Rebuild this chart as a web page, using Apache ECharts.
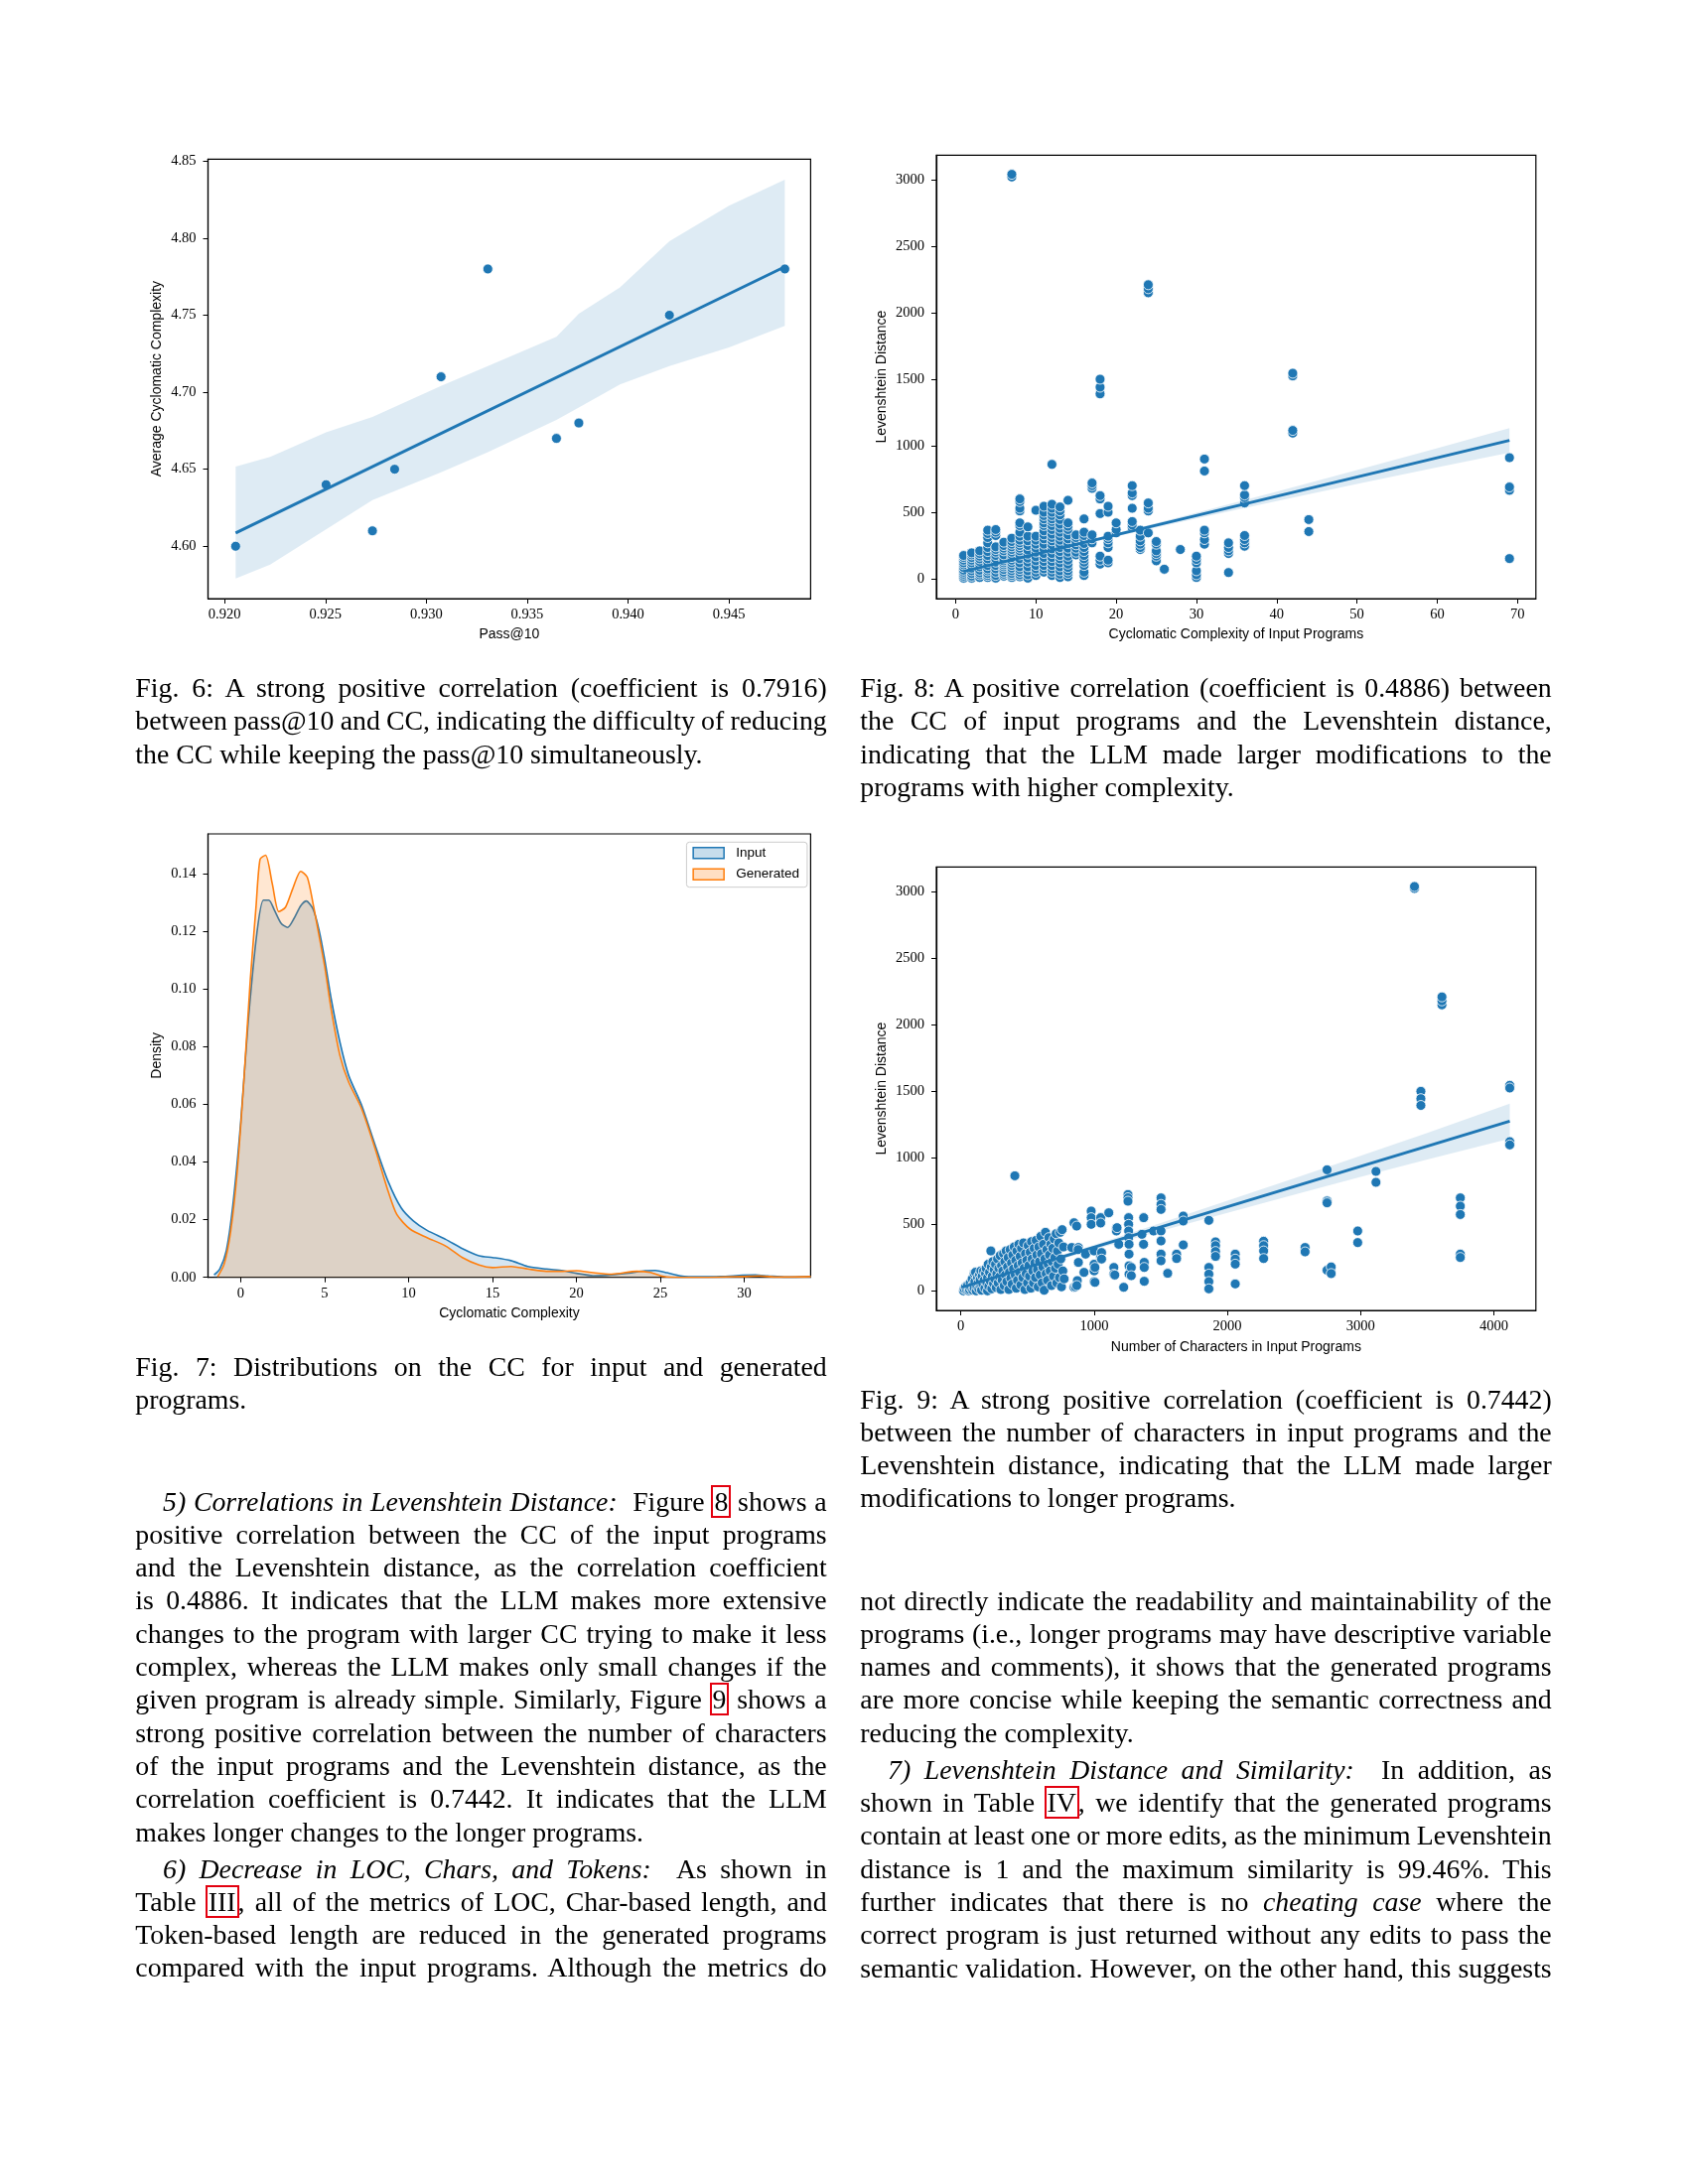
<!DOCTYPE html>
<html><head><meta charset="utf-8">
<script src="https://cdn.jsdelivr.net/npm/echarts@6/dist/echarts.min.js"></script>
<style>
html,body{margin:0;padding:0;background:#fff;}
#chart{position:absolute;left:0;top:0;width:1700px;height:2200px;}
.col{position:absolute;width:696.4px;font-family:'Liberation Serif','Times New Roman',serif;font-size:27.8px;line-height:33.33px;color:#000;}
.col .j{text-align:justify;text-align-last:justify;word-spacing:-3px;}
.col .l{text-align:left;}
.col .ind{padding-left:27.7px;}
.col .ps{margin-top:3.4px;}
.box{outline:2px solid #e3000f;outline-offset:-1px;padding:0 2px;}
</style></head><body>
<div id="chart"></div>

<div class="col" style="left:136.3px;top:676px;">
<div class="j">Fig. 6: A strong positive correlation (coefficient is 0.7916)</div>
<div class="j">between pass@10 and CC, indicating the difficulty of reducing</div>
<div class="l">the CC while keeping the pass@10 simultaneously.</div>
</div>

<div class="col" style="left:866.3px;top:676px;">
<div class="j">Fig. 8: A positive correlation (coefficient is 0.4886) between</div>
<div class="j">the CC of input programs and the Levenshtein distance,</div>
<div class="j">indicating that the LLM made larger modifications to the</div>
<div class="l">programs with higher complexity.</div>
</div>

<div class="col" style="left:136.3px;top:1360px;">
<div class="j">Fig. 7: Distributions on the CC for input and generated</div>
<div class="l">programs.</div>
</div>

<div class="col" style="left:866.3px;top:1392.5px;">
<div class="j">Fig. 9: A strong positive correlation (coefficient is 0.7442)</div>
<div class="j">between the number of characters in input programs and the</div>
<div class="j">Levenshtein distance, indicating that the LLM made larger</div>
<div class="l">modifications to longer programs.</div>
</div>

<div class="col" style="left:136.3px;top:1495.5px;">
<div class="j ind"><i>5) Correlations in Levenshtein Distance:</i>&nbsp; Figure <span class="box">8</span> shows a</div>
<div class="j">positive correlation between the CC of the input programs</div>
<div class="j">and the Levenshtein distance, as the correlation coefficient</div>
<div class="j">is 0.4886. It indicates that the LLM makes more extensive</div>
<div class="j">changes to the program with larger CC trying to make it less</div>
<div class="j">complex, whereas the LLM makes only small changes if the</div>
<div class="j">given program is already simple. Similarly, Figure <span class="box">9</span> shows a</div>
<div class="j">strong positive correlation between the number of characters</div>
<div class="j">of the input programs and the Levenshtein distance, as the</div>
<div class="j">correlation coefficient is 0.7442. It indicates that the LLM</div>
<div class="l">makes longer changes to the longer programs.</div>
<div class="j ind ps"><i>6) Decrease in LOC, Chars, and Tokens:</i>&nbsp; As shown in</div>
<div class="j">Table <span class="box">III</span>, all of the metrics of LOC, Char-based length, and</div>
<div class="j">Token-based length are reduced in the generated programs</div>
<div class="j">compared with the input programs. Although the metrics do</div>
</div>

<div class="col" style="left:866.3px;top:1595.5px;">
<div class="j">not directly indicate the readability and maintainability of the</div>
<div class="j">programs (i.e., longer programs may have descriptive variable</div>
<div class="j">names and comments), it shows that the generated programs</div>
<div class="j">are more concise while keeping the semantic correctness and</div>
<div class="l">reducing the complexity.</div>
<div class="j ind ps"><i>7) Levenshtein Distance and Similarity:</i>&nbsp; In addition, as</div>
<div class="j">shown in Table <span class="box">IV</span>, we identify that the generated programs</div>
<div class="j">contain at least one or more edits, as the minimum Levenshtein</div>
<div class="j">distance is 1 and the maximum similarity is 99.46%. This</div>
<div class="j">further indicates that there is no <i>cheating case</i> where the</div>
<div class="j">correct program is just returned without any edits to pass the</div>
<div class="j">semantic validation. However, on the other hand, this suggests</div>
</div>

<script>
// ---------- Fig. 6 : pass@10 vs average CC ----------
const fig6Pass = [0.92055, 0.92503, 0.92733, 0.92843, 0.93073, 0.93305, 0.93645, 0.93756, 0.94205, 0.94777];
const fig6CC   = [4.60, 4.64, 4.61, 4.65, 4.71, 4.78, 4.67, 4.68, 4.75, 4.78];
const fig6LineX = [0.92055, 0.94777];
const fig6LineY = [4.6086, 4.7814];
const fig6BandX     = [0.92055, 0.92226, 0.92503, 0.92733, 0.93073, 0.93305, 0.93645, 0.93756, 0.93960, 0.94205, 0.94500, 0.94777];
const fig6BandUpper = [4.6517, 4.658, 4.674, 4.684, 4.704, 4.717, 4.736, 4.751, 4.768, 4.798, 4.821, 4.838];
const fig6BandLower = [4.579, 4.588, 4.611, 4.630, 4.648, 4.661, 4.682, 4.690, 4.705, 4.717, 4.729, 4.743];
const fig6XTicks = [0.920, 0.925, 0.930, 0.935, 0.940, 0.945];
const fig6YTicks = [4.60, 4.65, 4.70, 4.75, 4.80, 4.85];

// ---------- Fig. 8 : CC of input vs Levenshtein distance ----------
const fig8Groups = [
  [1, [5, 20, 35, 50, 65, 85, 105, 120, 140, 160, 175]],
  [2, [5, 20, 40, 60, 80, 100, 120, 140, 160, 180, 195]],
  [3, [10, 30, 45, 65, 90, 110, 130, 150, 170, 190, 210]],
  [4, [10, 25, 40, 60, 75, 100, 125, 150, 175, 205, 235, 270, 310, 340, 365]],
  [5, [5, 25, 50, 75, 100, 125, 150, 175, 200, 220, 240, 325, 350, 370]],
  [6, [20, 35, 50, 70, 90, 105, 120, 135, 150, 180, 210, 230, 250, 275]],
  [7, [10, 25, 40, 60, 80, 100, 120, 140, 160, 180, 200, 220, 240, 260, 280, 305, 3020, 3040]],
  [8, [15, 30, 50, 70, 90, 120, 150, 180, 210, 230, 250, 270, 290, 320, 350, 400, 420, 510, 530, 580, 600]],
  [9, [5, 30, 60, 90, 125, 155, 185, 215, 250, 285, 320, 390]],
  [10, [25, 50, 75, 100, 135, 165, 200, 230, 260, 290, 320, 515]],
  [11, [50, 75, 100, 130, 160, 190, 225, 260, 300, 330, 360, 400, 420, 450, 475, 500, 545]],
  [12, [25, 50, 75, 100, 130, 160, 190, 225, 255, 285, 310, 335, 370, 400, 430, 450, 475, 500, 530, 560, 860]],
  [13, [10, 35, 60, 90, 120, 150, 175, 205, 235, 260, 290, 320, 350, 380, 410, 445, 480, 510, 540]],
  [14, [15, 40, 60, 85, 110, 140, 170, 200, 230, 265, 300, 330, 370, 395, 420, 590]],
  [15, [180, 200, 230, 255, 280, 310, 330]],
  [16, [25, 50, 100, 125, 150, 175, 205, 235, 265, 300, 325, 350, 450]],
  [17, [270, 300, 330, 680, 700, 720]],
  [18, [110, 140, 170, 490, 600, 625, 1390, 1440, 1500]],
  [19, [120, 140, 235, 270, 300, 320, 500, 545]],
  [20, [345, 370, 420]],
  [22, [385, 405, 430, 530, 625, 645, 700]],
  [23, [220, 235, 260, 285, 320, 365]],
  [24, [345, 510, 530, 570, 2150, 2180, 2210]],
  [25, [135, 170, 190, 210, 260, 280]],
  [26, [72]],
  [28, [220]],
  [30, [10, 30, 60, 120, 145, 170]],
  [31, [260, 295, 345, 365, 810, 900]],
  [34, [47, 190, 210, 235, 270]],
  [36, [245, 270, 295, 325, 570, 610, 630, 700]],
  [42, [1095, 1115, 1525, 1545]],
  [44, [355, 445]],
  [69, [152, 665, 690, 910]]
];
const fig8LineX = [1, 69];
const fig8LineY = [55, 1040];
const fig8BandX     = [1, 10, 20, 30, 40, 50, 60, 69];
const fig8BandUpper = [67, 193, 342, 497, 655, 817, 982, 1132];
const fig8BandLower = [43, 177, 318, 453, 585, 713, 838, 948];
const fig8XTicks = [0, 10, 20, 30, 40, 50, 60, 70];
const levTicks = [0, 500, 1000, 1500, 2000, 2500, 3000];

// ---------- Fig. 7 : KDE of CC ----------
const fig7InputX = [-1.59,-1.25,-0.86,-0.47,0,0.44,0.96,1.35,1.67,2.0,2.4,2.79,3.18,3.57,3.9,4.3,4.66,5.0,5.39,5.91,6.43,7.2,8.0,8.78,9.56,10.3,11.1,12.2,13.2,14.2,15.0,16.1,17.1,18.2,19.2,20.0,21.0,22.1,23.1,24.1,24.7,25.4,26.2,27.3,28.6,29.9,30.65,31.4,32.5,33.96];
const fig7InputY = [0.0009,0.0029,0.0092,0.025,0.054,0.0885,0.1195,0.131,0.131,0.1276,0.123,0.1215,0.1247,0.129,0.1307,0.128,0.1207,0.1104,0.0966,0.0816,0.0701,0.0598,0.046,0.0333,0.0241,0.0195,0.0163,0.0132,0.0100,0.0075,0.0069,0.0058,0.0038,0.0029,0.0023,0.0014,0.0006,0.0009,0.0015,0.0023,0.0024,0.0016,0.0005,0.0002,0.0003,0.0007,0.0008,0.0005,0.0001,0.0003];
const fig7GenX = [-1.38,-0.99,-0.6,-0.21,0.18,0.57,0.91,1.15,1.48,1.875,2.27,2.66,3.1,3.57,3.96,4.3,4.6,5.0,5.39,5.91,6.43,7.2,8.0,8.78,9.3,10.1,11.1,12.2,13.2,14.2,15.0,16.1,17.1,18.2,19.2,20.0,21.0,22.1,23.6,24.4,25.2,26.2,27.8,29.9,30.9,32.0,33.96];
const fig7GenY = [0.0002,0.0046,0.016,0.0368,0.0678,0.1034,0.1287,0.1452,0.1466,0.1368,0.127,0.1285,0.135,0.141,0.139,0.13,0.1207,0.108,0.093,0.077,0.0678,0.0586,0.0448,0.0299,0.0218,0.0167,0.0138,0.0109,0.0069,0.0043,0.0034,0.0038,0.0029,0.0021,0.0021,0.0023,0.0016,0.0011,0.0021,0.0017,0.0003,0,0,0.0003,0.0005,0.0001,0.0003];
const fig7XTicks = [0, 5, 10, 15, 20, 25, 30];
const fig7YTicks = [0, 0.02, 0.04, 0.06, 0.08, 0.10, 0.12, 0.14];

// ---------- Fig. 9 : characters vs Levenshtein distance ----------
const fig9Cluster = [
  [20,0],[25,15],[35,30],[45,5],[50,40],[60,0],[65,10],[70,60],[75,25],[85,90],[90,5],[95,45],[100,130],[100,20],
  [105,70],[110,140],[115,0],[120,35],[125,100],[130,60],[135,15],[140,120],[145,85],[150,150],[150,30],
  [155,5],[160,110],[165,50],[170,150],[175,80],[180,20],[185,130],[190,170],[195,60],[200,100],[200,0],
  [205,200],[210,35],[215,140],[220,75],[225,300],[228,180],[232,15],[236,110],[240,220],[245,55],[250,160],
  [255,90],[260,200],[265,25],[270,130],[275,240],[280,60],[285,170],[290,105],[295,265],[300,10],
  [305,190],[310,80],[315,150],[320,280],[325,40],[330,220],[335,120],[340,300],[345,70],[350,180],
  [355,250],[360,10],[365,140],[370,310],[375,95],[380,210],[385,50],[390,270],[395,165],[400,330],
  [405,865],[408,120],[412,230],[416,20],[420,300],[425,80],[430,190],[435,350],[440,140],[445,260],[450,45],
  [455,320],[460,210],[465,100],[470,360],[475,170],[480,10],[485,280],[490,130],[495,230],[500,60],
  [505,340],[510,190],[515,110],[520,290],[525,20],[530,370],[535,240],[540,150],[545,60],[550,320],
  [555,210],[560,100],[565,380],[570,270],[575,160],[580,30],[585,330],[590,220],[595,120],[600,410],
  [605,280],[610,60],[615,180],[620,350],[625,5],[630,240],[635,440],[640,130],[645,310],[650,80],
  [655,200],[660,400],[665,270],[670,150],[675,350],[680,40],[685,220],[690,320],[695,110],[700,390],
  [705,250],[710,170],[715,430],[720,60],[725,300],[730,200],[735,360],[740,100],[745,440],[750,240],
  [755,30],[760,460],[765,150],[770,330],[775,90]
];
const fig9Outer = [
  [832,326],[849,512],[849,27],[869,487],[874,77],[882,326],[882,214],[860,30],[870,40],[880,310],[924,139],[936,276],
  [978,600],[978,550],[978,500],[1000,300],[1000,200],[1000,150],[1000,70],[1006,176],[1006,64],
  [1049,550],[1049,510],[1049,250],[1056,288],[1056,239],[1110,587],[1148,176],[1148,126],[1155,119],
  [1167,470],[1167,450],[1172,475],[1185,350],[1222,27],[1254,724],[1254,700],[1254,674],[1259,550],[1259,500],
  [1259,450],[1259,400],[1262,350],[1262,276],[1262,188],[1262,126],[1279,176],[1279,114],[1359,425],[1371,350],
  [1372,550],[1376,214],[1376,176],[1376,72],[1446,450],[1502,699],[1502,650],[1502,612],[1502,450],[1502,375],
  [1502,276],[1502,226],[1552,132],[1619,276],[1619,243],[1669,562],[1669,525],[1669,345],[1861,530],[1861,176],
  [1861,126],[1861,70],[1861,15],[1911,368],[1911,340],[1911,296],[1911,259],[2059,276],[2059,239],[2059,201],
  [2059,52],[2272,373],[2272,340],[2272,300],[2272,243],[2583,326],[2583,293],[2748,910],[2748,675],[2748,662],
  [2748,155],[2779,180],[2779,130],[2978,450],[2978,363],[3115,898],[3115,816],[3404,3025],[3404,3040],
  [3452,1500],[3452,1445],[3452,1394],[3610,2150],[3610,2180],[3610,2210],[3748,699],[3748,637],[3748,574],
  [3748,276],[3748,251],[4119,1545],[4119,1525],[4119,1122],[4119,1097]
];
const fig9LineX = [10, 4119];
const fig9LineY = [27, 1276];
const fig9BandX     = [10, 500, 1000, 1500, 2000, 2500, 3000, 3500, 4119];
const fig9BandUpper = [37, 188, 346, 510, 677, 846, 1016, 1188, 1408];
const fig9BandLower = [17, 164, 310, 450, 587, 722, 856, 988, 1144];
const fig9XTicks = [0, 1000, 2000, 3000, 4000];

// ---------- building ----------
const BLUE = '#1f77b4', ORANGE = '#ff7f0e';
const zip = (a, b) => a.map((v, i) => [v, b[i]]);

function grid(l, t, w, h) {
  return {left: l, top: t, width: w, height: h, show: true, borderColor: '#000', borderWidth: 1.2, backgroundColor: 'transparent', containLabel: false};
}
function axis(dim, gi, min, max, ticks, fmt, name, nameGap) {
  return {
    type: 'value', gridIndex: gi, min: min, max: max, name: name, nameLocation: 'middle', nameGap: nameGap,
    nameTextStyle: {fontFamily: 'Liberation Sans', fontSize: 14, color: '#000'},
    axisLine: {show: true, onZero: false, lineStyle: {color: '#000', width: 1.2}},
    axisTick: {show: true, length: 5, lineStyle: {color: '#000', width: 1}, customValues: ticks},
    axisLabel: {customValues: ticks, formatter: v => fmt(v), margin: dim === 'x' ? 9 : 12,
      fontFamily: 'Liberation Serif', fontSize: 14.5, color: '#000'},
    splitLine: {show: false}
  };
}
function band(gi, xs, up, lo) {
  return {
    type: 'custom', xAxisIndex: gi, yAxisIndex: gi, z: 1, silent: true,
    data: xs.map((x, i) => [x, up[i], lo[i]]),
    encode: {x: 0, y: [1, 2]},
    renderItem: function (params, api) {
      if (params.dataIndex !== 0) return null;
      const pts = [];
      for (let i = 0; i < xs.length; i++) pts.push(api.coord([xs[i], up[i]]));
      for (let i = xs.length - 1; i >= 0; i--) pts.push(api.coord([xs[i], lo[i]]));
      return {type: 'polygon', shape: {points: pts}, style: {fill: 'rgba(31,119,180,0.15)', stroke: null}};
    }
  };
}
function scatter(gi, data, size) {
  return {type: 'scatter', xAxisIndex: gi, yAxisIndex: gi, z: 2, data: data, symbolSize: size,
    itemStyle: {color: BLUE, borderColor: '#fff', borderWidth: 0.8, opacity: 1}, silent: true};
}
function regLine(gi, xs, ys) {
  return {type: 'line', xAxisIndex: gi, yAxisIndex: gi, z: 3, data: zip(xs, ys), symbol: 'none',
    lineStyle: {color: BLUE, width: 3}, silent: true};
}

const fig8Data = [];
fig8Groups.forEach(g => g[1].forEach(v => fig8Data.push([g[0], v])));
const fig9Data = fig9Cluster.concat(fig9Outer);

const f0 = v => String(Math.round(v));
const option = {
  animation: false,
  backgroundColor: '#fff',
  grid: [
    grid(209.5, 160.3, 606.9, 442.7),
    grid(943, 156.3, 603.8, 446.7),
    grid(209.5, 840, 606.9, 446.7),
    grid(943, 873.3, 603.8, 446.7)
  ],
  xAxis: [
    axis('x', 0, 0.91918, 0.94905, fig6XTicks, v => v.toFixed(3), 'Pass@10', 29),
    axis('x', 1, -2.4, 72.29, fig8XTicks, f0, 'Cyclomatic Complexity of Input Programs', 29),
    axis('x', 2, -1.95, 33.95, fig7XTicks, f0, 'Cyclomatic Complexity', 29),
    axis('x', 3, -184, 4315, fig9XTicks, f0, 'Number of Characters in Input Programs', 30)
  ],
  yAxis: [
    axis('y', 0, 4.566, 4.8513, fig6YTicks, v => v.toFixed(2), 'Average Cyclomatic Complexity', 44),
    axis('y', 1, -149, 3184, levTicks, f0, 'Levenshtein Distance', 47.5),
    axis('y', 2, 0, 0.154, fig7YTicks, v => v.toFixed(2), 'Density', 44),
    axis('y', 3, -147, 3187, levTicks, f0, 'Levenshtein Distance', 47.5)
  ],
  legend: {
    show: true, orient: 'vertical', left: 691.4, top: 848.3, padding: [4, 8, 6, 6], itemGap: 7.4,
    itemWidth: 31, itemHeight: 11, borderColor: '#cccccc', borderWidth: 1, borderRadius: 3,
    backgroundColor: 'rgba(255,255,255,0.8)',
    textStyle: {fontFamily: 'Liberation Sans', fontSize: 13.5, color: '#000', padding: [0, 0, 0, 7]},
    data: [
      {name: 'Input', icon: 'rect', itemStyle: {color: 'rgba(31,119,180,0.25)', borderColor: BLUE, borderWidth: 1.5}},
      {name: 'Generated', icon: 'rect', itemStyle: {color: 'rgba(255,127,14,0.25)', borderColor: ORANGE, borderWidth: 1.5}}
    ]
  },
  series: [
    band(0, fig6BandX, fig6BandUpper, fig6BandLower),
    scatter(0, zip(fig6Pass, fig6CC), 10),
    regLine(0, fig6LineX, fig6LineY),

    band(1, fig8BandX, fig8BandUpper, fig8BandLower),
    scatter(1, fig8Data, 10),
    regLine(1, fig8LineX, fig8LineY),

    {name: 'Input', type: 'line', xAxisIndex: 2, yAxisIndex: 2, z: 2, data: zip(fig7InputX, fig7InputY),
      symbol: 'none', smooth: 0.25, lineStyle: {color: BLUE, width: 1.6}, itemStyle: {color: BLUE},
      areaStyle: {color: 'rgba(31,119,180,0.27)'}, silent: true},
    {name: 'Generated', type: 'line', xAxisIndex: 2, yAxisIndex: 2, z: 3, data: zip(fig7GenX, fig7GenY),
      symbol: 'none', smooth: 0.25, lineStyle: {color: ORANGE, width: 1.6}, itemStyle: {color: ORANGE},
      areaStyle: {color: 'rgba(255,127,14,0.27)'}, silent: true},

    band(3, fig9BandX, fig9BandUpper, fig9BandLower),
    scatter(3, fig9Data, 10),
    regLine(3, fig9LineX, fig9LineY)
  ]
};
const chart = echarts.init(document.getElementById('chart'), null, {renderer: 'canvas', width: 1700, height: 2200});
chart.setOption(option);
</script>
</body></html>
